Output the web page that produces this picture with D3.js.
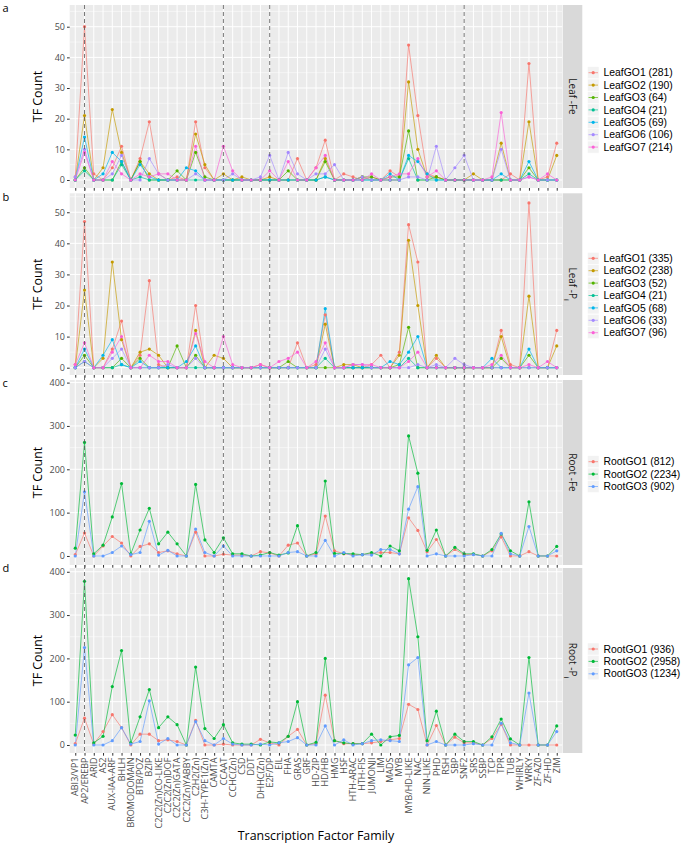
<!DOCTYPE html>
<html><head><meta charset="utf-8">
<script src="https://cdn.jsdelivr.net/npm/d3@7"></script>
<style>body{margin:0;background:#fff;} svg{display:block;font-family:"Open Sans",sans-serif;}</style>
</head><body>
<svg id="chart" width="685" height="848"></svg>
<script>
const categories = ["ABI3/VP1","AP2/EREBP","ARID","AS2","AUX-IAA-ARF","BHLH","BROMODOMAIN","BTB/POZ","BZIP","C2C2(Zn)CO-LIKE","C2C2(Zn)DOF","C2C2(Zn)GATA","C2C2(Zn)YABBY","C2H2(Zn)","C3H-TYPE1(Zn)","CAMTA","CCAAT","CCHC(Zn)","CSD","DDT","DHHC(Zn)","E2F/DP","EIL","FHA","GRAS","GRF","HD-ZIP","HD/HB","HMG","HSF","HTH-ARAC","HTH-FIS","JUMONJI","LIM","MADS","MYB","MYB/HD-LIKE","NAC","NIN-LIKE","PHD","RSH","SBP","SNF2","SRS","SSBP","TCP","TPR","TUB","WHIRLY","WRKY","ZF-AZ0","ZF-HD","ZIM"];
const dividerFamilies = ["AP2/EREBP","CCAAT","E2F/DP","SNF2"];

const leafFeNames = ["LeafGO1 (281)","LeafGO2 (190)","LeafGO3 (64)","LeafGO4 (21)","LeafGO5 (69)","LeafGO6 (106)","LeafGO7 (214)"];
const leafFeGO1 = [1,50,2,0,4,11,0,7,19,2,0,1,0,19,4,0,0,0,0,0,0,0,0,0,7,0,4,13,0,2,1,0,1,0,3,1,44,21,2,1,0,0,0,0,0,0,0,2,0,38,0,1,12];
const leafFeGO2 = [0,21,0,4,23,9,0,6,2,0,0,0,0,15,5,0,2,0,1,0,0,1,0,0,0,0,0,7,0,0,0,1,0,0,0,0,32,10,1,1,0,0,0,2,0,0,12,0,0,19,0,0,8];
const leafFeGO3 = [0,4,0,0,0,6,0,6,0,0,0,3,0,9,1,0,0,0,0,0,0,0,0,3,0,0,0,6,0,0,0,1,1,0,1,1,16,0,0,1,0,0,0,0,0,0,0,0,0,4,0,0,0];
const leafFeGO4 = [0,3,0,0,0,5,0,1,0,0,0,0,0,0,0,0,0,0,0,0,0,0,0,0,0,0,0,1,0,0,0,0,0,0,0,0,7,0,0,0,0,0,0,0,0,0,0,0,0,2,0,0,0];
const leafFeGO5 = [0,14,0,2,9,6,0,5,1,0,0,0,4,3,0,0,0,0,0,0,0,0,0,0,0,0,0,1,0,0,0,0,0,0,2,0,8,6,2,0,0,0,0,0,0,0,2,0,0,6,0,0,0];
const leafFeGO6 = [1,10,0,0,2,8,0,0,7,2,0,0,0,2,0,0,0,2,0,0,1,8,0,9,2,0,2,2,5,0,0,1,0,0,0,0,1,1,0,11,0,4,8,0,0,0,10,0,0,1,0,0,0];
const leafFeGO7 = [0,9,0,0,6,2,0,2,1,2,2,0,0,11,0,0,11,3,0,0,0,3,0,6,0,0,4,8,0,0,0,0,2,0,1,2,2,7,1,3,0,0,0,0,0,1,22,0,0,1,0,2,0];

const leafPNames = ["LeafGO1 (335)","LeafGO2 (238)","LeafGO3 (52)","LeafGO4 (21)","LeafGO5 (68)","LeafGO6 (33)","LeafGO7 (96)"];
const leafPGO1 = [1,47,0,0,6,15,0,4,28,1,0,0,0,20,0,0,0,0,0,0,1,0,0,0,8,0,1,17,0,0,0,0,1,4,0,5,46,34,0,3,0,0,0,0,0,0,12,1,0,53,0,0,12];
const leafPGO2 = [0,25,0,3,34,9,0,5,6,4,0,0,0,12,0,4,3,0,0,0,0,0,0,0,0,0,0,14,0,1,1,0,0,0,0,4,41,20,0,4,0,0,0,0,0,0,10,0,0,23,0,0,7];
const leafPGO3 = [0,4,0,0,0,3,0,3,0,0,0,7,0,4,0,0,0,0,0,0,0,0,0,2,0,0,0,0,0,0,0,0,0,0,0,1,13,0,0,0,0,0,0,0,0,0,3,0,0,4,0,0,0];
const leafPGO4 = [0,2,0,0,0,1,0,0,0,0,0,0,0,0,0,0,0,0,0,0,0,0,0,0,0,0,0,3,0,0,0,0,0,0,0,0,3,0,0,0,0,0,0,0,0,0,0,0,0,0,0,0,0];
const leafPGO5 = [0,6,0,4,9,1,0,2,0,0,0,0,2,7,0,0,0,0,0,0,0,0,0,0,0,0,0,19,0,0,0,0,0,0,2,1,5,10,0,0,0,0,0,0,0,3,0,0,0,6,0,0,0];
const leafPGO6 = [0,2,0,0,3,6,0,0,0,0,1,0,0,3,0,0,0,0,0,0,0,0,0,0,0,0,0,6,0,0,1,1,0,0,0,0,0,1,0,1,0,3,1,0,0,0,0,0,0,0,0,0,0];
const leafPGO7 = [1,8,0,0,5,10,0,0,4,2,2,0,0,11,2,0,10,1,0,0,1,0,2,3,5,0,2,8,0,0,1,1,1,0,0,0,2,5,0,0,0,0,0,0,0,1,4,0,0,1,0,2,0];

const rootFeNames = ["RootGO1 (812)","RootGO2 (2234)","RootGO3 (902)"];
const rootFeGO1 = [3,53,0,23,45,30,0,22,28,8,12,5,0,55,0,0,4,2,2,0,10,7,0,25,30,0,5,92,12,5,3,3,6,8,8,5,88,59,10,38,0,15,3,4,0,12,44,0,0,10,0,0,0];
const rootFeGO2 = [18,262,5,25,90,167,5,60,110,28,55,28,0,165,37,8,42,5,5,0,2,8,2,7,70,0,8,173,6,6,5,3,8,0,23,12,277,191,13,60,0,20,5,5,0,15,51,12,0,125,0,0,22];
const rootFeGO3 = [0,148,0,0,8,23,3,8,80,2,13,0,0,62,8,0,23,0,0,0,0,0,0,8,10,0,0,36,0,8,0,3,2,15,15,5,108,160,0,5,0,0,0,3,0,0,52,5,0,68,0,0,12];

const rootPNames = ["RootGO1 (936)","RootGO2 (2958)","RootGO3 (1234)"];
const rootPGO1 = [3,62,2,31,70,40,0,25,25,10,12,8,0,57,0,0,2,0,0,0,13,5,0,20,36,0,3,115,10,3,3,3,5,8,12,15,94,82,0,45,0,18,5,5,0,15,48,0,0,0,0,0,0];
const rootPGO2 = [23,378,5,20,135,218,5,65,128,40,65,47,0,180,38,15,47,5,2,2,0,7,5,20,100,0,6,200,10,5,3,3,25,0,19,22,384,250,10,78,0,25,8,8,0,19,60,14,0,202,0,0,44];
const rootPGO3 = [0,225,0,0,10,40,2,8,102,2,15,0,0,54,10,0,15,2,0,0,2,0,5,8,17,0,0,44,0,12,0,3,10,12,10,8,185,202,0,8,0,0,0,3,0,0,50,5,0,120,0,0,31];

const hue7 = ["#F8766D","#C49A00","#53B400","#00C094","#00B6EB","#A58AFF","#FB61D7"];
const hue3 = ["#F8766D","#00BA38","#619CFF"];
const yTicksLeaf = [0,10,20,30,40,50];
const yTicksRoot = [0,100,200,300,400];

const panels = [
  {letter:"a", strip:["Leaf -Fe",null], names:leafFeNames, values:[leafFeGO1,leafFeGO2,leafFeGO3,leafFeGO4,leafFeGO5,leafFeGO6,leafFeGO7], colors:hue7, ticks:yTicksLeaf, domain:[-2.61,57.08], top:5, bottom:188, legTop:72.7, letterY:8},
  {letter:"b", strip:["Leaf -P","i"], names:leafPNames, values:[leafPGO1,leafPGO2,leafPGO3,leafPGO4,leafPGO5,leafPGO6,leafPGO7], colors:hue7, ticks:yTicksLeaf, domain:[-2.35,56.1], top:193.3, bottom:375, legTop:258.3, letterY:197},
  {letter:"c", strip:["Root -Fe",null], names:rootFeNames, values:[rootFeGO1,rootFeGO2,rootFeGO3], colors:hue3, ticks:yTicksRoot, domain:[-20.8,406], top:380, bottom:565, legTop:461.7, letterY:383},
  {letter:"d", strip:["Root -P","i"], names:rootPNames, values:[rootPGO1,rootPGO2,rootPGO3], colors:hue3, ticks:yTicksRoot, domain:[-18.5,408.7], top:568, bottom:753, legTop:649, letterY:568}
];

const svg = d3.select("#chart");
svg.append("rect").attr("width",685).attr("height",848).attr("fill","#fff");
const left = 69.7, right = 562.3;
const x = d3.scalePoint().domain(categories).range([left,right]).padding(0.6);

panels.forEach(p => {
  const y = d3.scaleLinear().domain(p.domain).range([p.bottom,p.top]);
  const g = svg.append("g");
  g.append("rect").attr("x",left).attr("y",p.top).attr("width",right-left).attr("height",p.bottom-p.top).attr("fill","#EBEBEB");
  const step = p.ticks[1]-p.ticks[0];
  const minor = p.ticks.map(t=>t+step/2).filter(t=>y(t)>p.top);
  g.selectAll(null).data(minor).enter().append("line")
    .attr("x1",left).attr("x2",right).attr("y1",d=>y(d)).attr("y2",d=>y(d))
    .attr("stroke","#fff").attr("stroke-width",0.5);
  g.selectAll(null).data(p.ticks).enter().append("line")
    .attr("x1",left).attr("x2",right).attr("y1",d=>y(d)).attr("y2",d=>y(d))
    .attr("stroke","#fff").attr("stroke-width",1);
  g.selectAll(null).data(categories).enter().append("line")
    .attr("x1",d=>x(d)).attr("x2",d=>x(d)).attr("y1",p.top).attr("y2",p.bottom)
    .attr("stroke","#fff").attr("stroke-width",1);
  const ya = g.append("g").attr("transform",`translate(${left},0)`)
    .call(d3.axisLeft(y).tickValues(p.ticks).tickSize(2.7).tickPadding(2));
  ya.select(".domain").remove();
  ya.selectAll("line").attr("stroke","#333");
  ya.selectAll("text").attr("fill","#4D4D4D").style("font-size","9px").style("font-family","Open Sans");
  const xa = g.append("g").attr("transform",`translate(0,${p.bottom})`)
    .call(d3.axisBottom(x).tickSize(2.7).tickFormat(""));
  xa.select(".domain").remove();
  xa.selectAll("line").attr("stroke","#333");
  const line = d3.line().x((d,i)=>x(categories[i])).y(d=>y(d));
  p.values.forEach((vals,k) => {
    g.append("path").attr("d",line(vals)).attr("fill","none")
      .attr("stroke",p.colors[k]).attr("stroke-width",1).attr("stroke-opacity",0.65);
  });
  p.values.forEach((vals,k) => {
    g.selectAll(null).data(vals).enter().append("circle")
      .attr("cx",(d,i)=>x(categories[i])).attr("cy",d=>y(d)).attr("r",1.6)
      .attr("fill",p.colors[k]);
  });
  g.append("rect").attr("x",right+0.5).attr("y",p.top).attr("width",19.5).attr("height",p.bottom-p.top).attr("fill","#D9D9D9");
  const st = g.append("text").attr("transform",`translate(${right+10.2},${(p.top+p.bottom)/2}) rotate(90)`)
    .attr("text-anchor","middle").attr("dy","0.35em").attr("fill","#1A1A1A").style("font-size","10px");
  st.append("tspan").text(p.strip[0]);
  if (p.strip[1]) st.append("tspan").attr("baseline-shift","sub").style("font-size","7px").text(p.strip[1]);
  g.append("text").attr("transform",`translate(37.5,${(p.top+p.bottom)/2}) rotate(-90)`)
    .attr("text-anchor","middle").attr("dy","0.35em").attr("fill","#000").style("font-size","12.4px").text("TF Count");
  g.append("text").attr("x",2.5).attr("y",p.letterY).attr("dy","0.35em").attr("fill","#000").style("font-size","11px").text(p.letter);
  const lg = g.append("g");
  p.names.forEach((nm,k) => {
    const cy = p.legTop + k*12.4;
    lg.append("rect").attr("x",587.5).attr("y",cy-6).attr("width",11.5).attr("height",12).attr("fill","#F2F2F2").attr("stroke","#fff").attr("stroke-width",0.5);
    lg.append("line").attr("x1",588.5).attr("x2",598).attr("y1",cy).attr("y2",cy).attr("stroke",p.colors[k]).attr("stroke-opacity",0.65).attr("stroke-width",1);
    lg.append("circle").attr("cx",593.2).attr("cy",cy).attr("r",1.6).attr("fill",p.colors[k]);
    lg.append("text").attr("x",603.5).attr("y",cy).attr("dy","0.35em").attr("fill","#000")
      .style("font-family","'Liberation Sans',Arial,sans-serif").style("font-size","10.4px").text(nm);
  });
});

svg.selectAll(null).data(dividerFamilies).enter().append("line")
  .attr("x1",d=>x(d)).attr("x2",d=>x(d)).attr("y1",5).attr("y2",753)
  .attr("stroke","#555").attr("stroke-width",0.8).attr("stroke-dasharray","4,3");

const last = panels[panels.length-1];
svg.append("g").selectAll("text").data(categories).enter().append("text")
  .attr("transform",d=>`translate(${x(d)},${last.bottom+4.5}) rotate(-90)`)
  .attr("text-anchor","end").attr("dy","0.35em").attr("fill","#4D4D4D").style("font-size","9px").text(d=>d);
svg.append("text").attr("x",(left+right)/2).attr("y",840).attr("text-anchor","middle")
  .attr("fill","#000").style("font-size","12.4px").text("Transcription Factor Family");
</script>
</body></html>
